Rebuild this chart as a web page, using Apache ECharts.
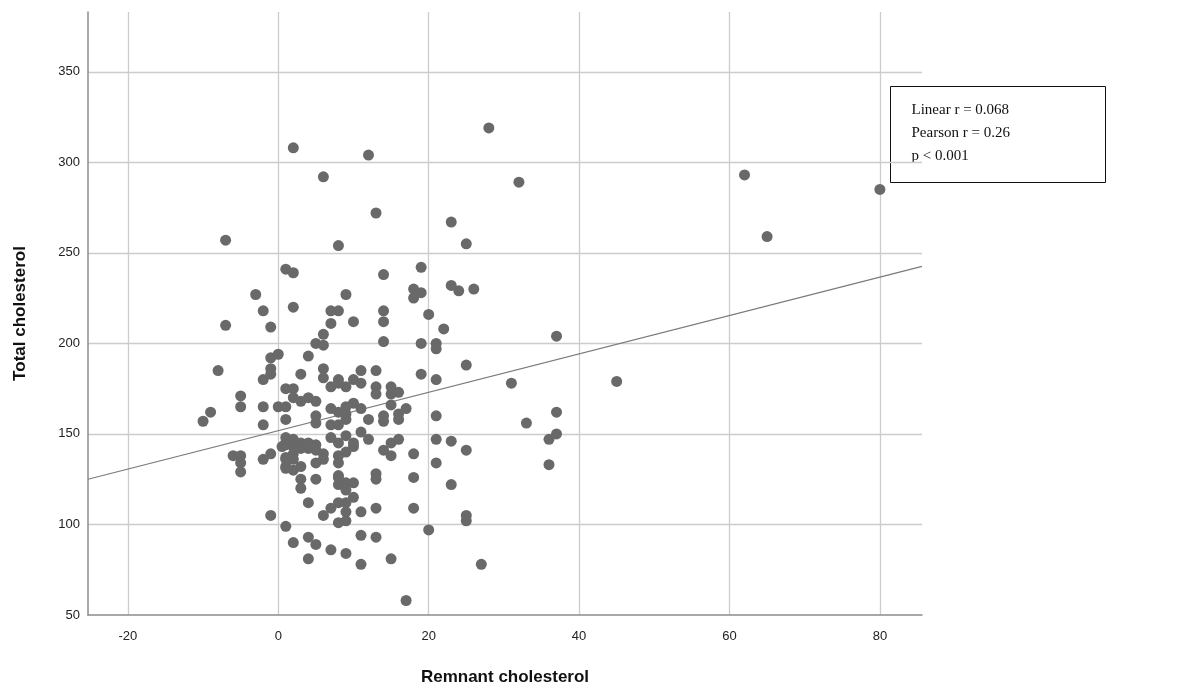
<!DOCTYPE html>
<html>
<head>
<meta charset="utf-8">
<script src="https://cdn.jsdelivr.net/npm/echarts@6/dist/echarts.min.js"></script>
<style>
  html, body { margin: 0; padding: 0; background: #fff; }
  #chart { width: 1204px; height: 691px; }
</style>
</head>
<body>
<div id="chart"></div>
<script>
// Remnant cholesterol (x) and total cholesterol (y) for each subject
const remnant = [
  28, 2, 12, 6, 32, 62, 80, 13, 23, -7, 65, 8, 25, 1, 2, 19, 14,
  -3, 9, -2, 2, -7, -1, 7, 8, 10, 7, 6, 5, 6, -1, 0, 4, -8, -1, -1, -2, 3, 6, 6, 11, 13,
  18, 19, 18, 23, 24, 26, 14, 14, 20, 22, 14, 19, 21, 21, 37, 25, 19, 21, 31, 45, 8,
  7, 8, 9, 10, 11, 13, 13, 1, 2, -5, -5, -2, 0, 1, 2, 3, 4, 5, -9, -10, -2, 1, 5, 5,
  7, 8, 9, 9, 10, 11, 12, 7, 8, 9, 11, 10, 9,
  15, 15, 16, 15, 17, 16, 16, 14, 14, 21, 37, 33, 37, 36, 16, 15, 14, 15, 18, 21, 23, 25, 36,
  21, 13, 13, 18, 23, 13, 18, 25, 25, 20, 13, 15, 27, 17,
  -6, -5, -5, -5, -2, -1, 1, 1, 1, 2, 2, 3, 4, 5, 6, 6, 5, 8, 8, 3, 3, 5, 8, 9, 10, 8, 9,
  10, 9, 8, 4, 7, 6, 9, 9, 8, 11, -1, 1, 11, 4, 5, 2, 7, 9, 4, 11,
  1, 2, 3, 4, 5, 0.5, 1, 1, 2, 3, 3, 2, 8, 8, 9, 12, 10, 7, 1
];
const total = [
  319, 308, 304, 292, 289, 293, 285, 272, 267, 257, 259, 254, 255, 241, 239, 242, 238,
  227, 227, 218, 220, 210, 209, 218, 218, 212, 211, 205, 200, 199, 192, 194, 193, 185, 186, 183, 180, 183, 186, 181, 185, 185,
  230, 228, 225, 232, 229, 230, 218, 212, 216, 208, 201, 200, 200, 197, 204, 188, 183, 180, 178, 179, 180,
  176, 178, 176, 180, 178, 176, 172, 175, 175, 171, 165, 165, 165, 165, 170, 168, 170, 168, 162, 157, 155, 158, 160, 156,
  164, 162, 161, 158, 167, 164, 158, 155, 155, 149, 151, 143, 165,
  176, 172, 173, 166, 164, 161, 158, 160, 157, 160, 162, 156, 150, 147, 147, 145, 141, 138, 139, 147, 146, 141, 133,
  134, 128, 125, 126, 122, 109, 109, 105, 102, 97, 93, 81, 78, 58,
  138, 138, 134, 129, 136, 139, 144, 136, 131, 143, 136, 143, 142, 141, 139, 136, 134, 138, 134, 125, 120, 125, 127, 123, 123, 122, 119,
  115, 112, 112, 112, 109, 105, 107, 102, 101, 107, 105, 99, 94, 93, 89, 90, 86, 84, 81, 78,
  145, 139, 145, 145, 144, 143, 137, 132, 130, 132, 142, 147, 145, 126, 140, 147, 145, 148, 148
];

// Fitted regression line: total = intercept + slope * remnant
const fitSlope = 1.06;
const fitIntercept = 151.8;

// Axis extents and labels
const xMin = -25.3, xMax = 85.6;
const yMin = 50, yMax = 383, yStep = 50;

const statLines = ['Linear r = 0.068', 'Pearson r = 0.26', 'p < 0.001'];

const points = remnant.map((x, i) => [x, total[i]]);
const fitLine = [
  [xMin, fitIntercept + fitSlope * xMin],
  [xMax, fitIntercept + fitSlope * xMax]
];

const chart = echarts.init(document.getElementById('chart'), null, { renderer: 'canvas' });

const labelFont = { color: '#222', fontSize: 13, fontFamily: 'Liberation Sans, Arial, sans-serif' };
const nameFont = { color: '#111', fontSize: 17, fontWeight: 'bold', fontFamily: 'Liberation Sans, Arial, sans-serif' };

chart.setOption({
  backgroundColor: '#ffffff',
  animation: false,
  grid: { left: 88, right: 282, top: 12, bottom: 76, containLabel: false },
  xAxis: {
    type: 'value',
    min: xMin,
    max: xMax,
    splitNumber: 5,
    name: 'Remnant cholesterol',
    nameLocation: 'middle',
    nameGap: 54,
    nameTextStyle: nameFont,
    axisLine: { show: true, onZero: false, lineStyle: { color: '#8c8c8c', width: 1.5 } },
    axisTick: { show: false },
    axisLabel: Object.assign({ margin: 15, showMinLabel: false, showMaxLabel: false }, labelFont),
    splitLine: { show: true, showMinLine: false, showMaxLine: false, lineStyle: { color: '#cccccc', width: 1.3 } }
  },
  yAxis: {
    type: 'value',
    min: yMin,
    max: yMax,
    interval: yStep,
    name: 'Total cholesterol',
    nameLocation: 'middle',
    nameGap: 59,
    nameTextStyle: nameFont,
    axisLine: { show: true, onZero: false, lineStyle: { color: '#8c8c8c', width: 1.5 } },
    axisTick: { show: false },
    axisLabel: Object.assign({ margin: 8, showMaxLabel: false }, labelFont),
    splitLine: { show: true, showMinLine: false, showMaxLine: false, lineStyle: { color: '#cccccc', width: 1.3 } }
  },
  series: [
    {
      type: 'scatter',
      data: points,
      symbol: 'circle',
      symbolSize: 11,
      itemStyle: { color: '#696969', opacity: 1 },
      z: 3
    },
    {
      type: 'line',
      data: fitLine,
      showSymbol: false,
      symbol: 'none',
      lineStyle: { color: '#7a7a7a', width: 1.2 },
      z: 2,
      silent: true
    }
  ],
  graphic: [
    {
      type: 'group',
      left: 890,
      top: 86,
      z: 100,
      children: [
        {
          type: 'rect',
          shape: { x: 0, y: 0, width: 215, height: 96 },
          style: { fill: '#ffffff', stroke: '#111', lineWidth: 1 }
        },
        {
          type: 'text',
          x: 21,
          y: 12,
          style: {
            text: statLines.join('\n'),
            font: '15px "Liberation Serif", "Times New Roman", serif',
            fill: '#111',
            lineHeight: 23
          }
        }
      ]
    }
  ]
});
</script>
</body>
</html>
